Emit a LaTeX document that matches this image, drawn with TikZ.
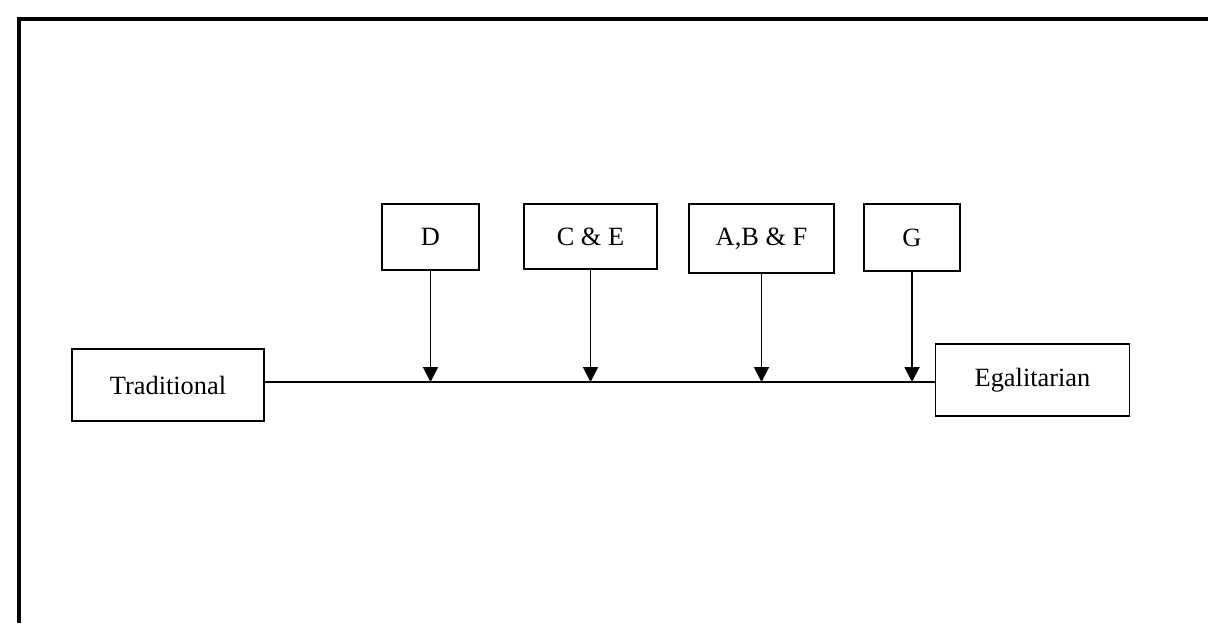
\documentclass[tikz,border=0pt]{standalone}
\usepackage{fontspec}
\setmainfont{Liberation Serif}
\usetikzlibrary{arrows.meta}

\begin{document}
\begin{tikzpicture}
% Page size and the frame at top and left
\useasboundingbox (0,0) rectangle (24.16,-12.46);
\draw[line width=2pt] (0.38,-12.46) -- (0.38,-0.38) -- (24.16,-0.38);

% Font used in every box
\def\boxfont{\fontsize{15}{18}\selectfont}

% The two ends of the scale
\node[draw, line width=1.1pt, minimum width=3.84cm, minimum height=1.44cm, font=\boxfont] (trad) at (3.36,-7.70) {Traditional};
\node[draw, line width=1.1pt, minimum width=3.88cm, minimum height=1.44cm, font=\boxfont] (egal) at (20.65,-7.60) {Egalitarian};
\coordinate (axis) at (0,-7.64);
\draw[line width=1pt] (trad.east |- axis) -- (egal.west |- axis);

% Groups placed along the scale
\node[draw, line width=1.1pt, minimum width=1.94cm, minimum height=1.32cm, font=\boxfont] (d) at (8.61,-4.74) {D};
\node[draw, line width=1.1pt, minimum width=2.66cm, minimum height=1.30cm, font=\boxfont] (ce) at (11.81,-4.73) {C \& E};
\node[draw, line width=1.1pt, minimum width=2.90cm, minimum height=1.38cm, font=\boxfont] (abf) at (15.23,-4.77) {A,B \& F};
\node[draw, line width=1.1pt, minimum width=1.92cm, minimum height=1.34cm, font=\boxfont] (g) at (18.24,-4.75) {G};

% Arrows down to the scale
\draw[line width=1.1pt, -{Triangle[width=0.3cm,length=0.3cm]}] (d.south) -- (d.south |- axis);
\draw[line width=1.1pt, -{Triangle[width=0.3cm,length=0.3cm]}] (ce.south) -- (ce.south |- axis);
\draw[line width=1.1pt, -{Triangle[width=0.3cm,length=0.3cm]}] (abf.south) -- (abf.south |- axis);
\draw[line width=1.1pt, -{Triangle[width=0.3cm,length=0.3cm]}] (g.south) -- (g.south |- axis);
\end{tikzpicture}
\end{document}
